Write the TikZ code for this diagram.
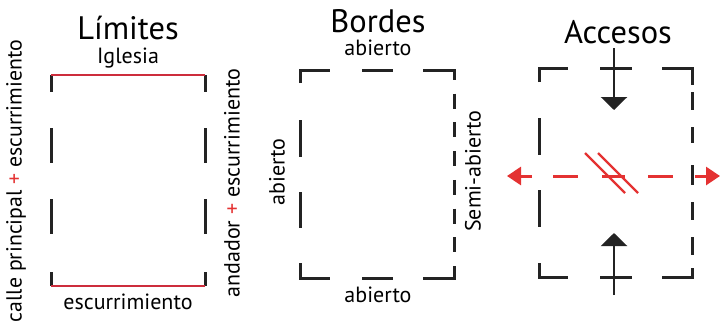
\documentclass[tikz,border=0pt]{standalone}
\usepackage{fontspec}
\setmainfont{PT Sans}
\usepackage{tikz}
\usetikzlibrary{arrows.meta, positioning}

\definecolor{wallgray}{RGB}{35,35,35}
\definecolor{limred}{RGB}{205,45,60}
\definecolor{accred}{RGB}{228,50,50}

\tikzset{
  wall/.style={line width=3pt, wallgray},
  limline/.style={line width=2.4pt, limred},
  accline/.style={line width=3pt, accred},
  title/.style={font=\fontsize{32.5}{36}\selectfont, anchor=base, inner sep=0pt},
  tag/.style={font=\fontsize{22}{24}\selectfont, inner sep=0pt},
}

\begin{document}
\begin{tikzpicture}[x=1pt, y=-1pt]
		\useasboundingbox (0,0) rectangle (720,325);
		% Limites
		\node[title] (limtitle) at (128,39) {Límites};
		\node[tag, anchor=base] (limtop) at (128,63) {Iglesia};
		\node[tag, anchor=base] (limbot) at (128,309) {escurrimiento};
		\node[tag, rotate=90, font=\fontsize{21.8}{24}\selectfont] (limleft) at (16,181) {calle principal {\color{accred}+} escurrimiento};
		\node[tag, rotate=90] (limright) at (232,183) {andador {\color{accred}+} escurrimiento};
		\foreach \xs in {51,205} {
			\draw[wall] (\xs,75) -- (\xs,92);
			\draw[wall] (\xs,272) -- (\xs,286);
			\foreach \ya/\yb in {128/163, 199/234}
				\draw[wall] (\xs,\ya) -- (\xs,\yb);
		}
		\draw[limline] (51,75) -- (205,75);
		\draw[limline] (51,286) -- (205,286);
		% Bordes
		\node[title] (bortitle) at (378,32) {Bordes};
		\node[tag, anchor=base] (bortop) at (378,55) {abierto};
		\node[tag, anchor=base] (borbot) at (378,302) {abierto};
		\node[tag, rotate=90] (borleft) at (277,172) {abierto};
		\node[tag, rotate=90] (borright) at (473,171) {Semi-abierto};
		\foreach \yy/\yc in {70/83, 278/263} {
			\draw[wall] (300,\yc) -- (300,\yy) -- (330,\yy);
			\draw[wall] (362,\yy) -- (393,\yy);
		}
		\draw[wall] (423,70) -- (454,70) -- (454,80);
		\draw[wall] (423,278) -- (454,278) -- (454,266);
		\foreach \ya/\yb in {120/157, 192/228}
			\draw[wall] (300,\ya) -- (300,\yb);
		% semi-open side: short dashes
		\foreach \i in {0,...,5}
			\draw[wall] (454,{93.7+\i*28.7}) -- (454,{108.7+\i*28.7});
		% Accesos
		\node[title] (acctitle) at (618,43) {Accesos};
		\foreach \yy/\yc in {68/82, 277/263} {
			\draw[wall] (539,\yc) -- (539,\yy) -- (568,\yy);
			\draw[wall] (600,\yy) -- (632,\yy);
		}
		\draw[wall] (662,68) -- (692,68) -- (692,85);
		\draw[wall] (662,277) -- (692,277) -- (692,268);
		\foreach \ya/\yb in {118/155, 190/227}
			\draw[wall] (539,\ya) -- (539,\yb);
		\foreach \ya/\yb in {92/110, 127/143, 165/185, 202/220, 237/255}
			\draw[wall] (692,\ya) -- (692,\yb);
		% Entry arrows (pedestrian)
		\coordinate (intop) at (614,48);
		\coordinate (intoptip) at (614,110);
		\coordinate (inbot) at (614,295);
		\coordinate (inbottip) at (614,233);
		\draw[wall, line width=2.4pt, -{Triangle[width=26pt,length=13pt]}] (intop) -- (intoptip);
		\draw[wall, line width=2.4pt, -{Triangle[width=26pt,length=13pt]}] (inbot) -- (inbottip);
		% Vehicle crossing (red)
		\coordinate (outleft) at (532,176);
		\coordinate (outlefttip) at (507,176);
		\coordinate (outright) at (695,176);
		\coordinate (outrighttip) at (720,176);
		\draw[accline, -{Triangle[width=18pt,length=14pt]}] (outleft) -- (outlefttip);
		\draw[accline, -{Triangle[width=18pt,length=14pt]}] (outright) -- (outrighttip);
		\foreach \xa/\xb in {553/578, 602/625, 648/673}
			\draw[accline] (\xa,176) -- (\xb,176);
		\draw[accline, line width=2.4pt] (585,153) -- (625,193);
		\draw[accline, line width=2.4pt] (598,153) -- (638,193);
	\end{tikzpicture}
\end{document}
